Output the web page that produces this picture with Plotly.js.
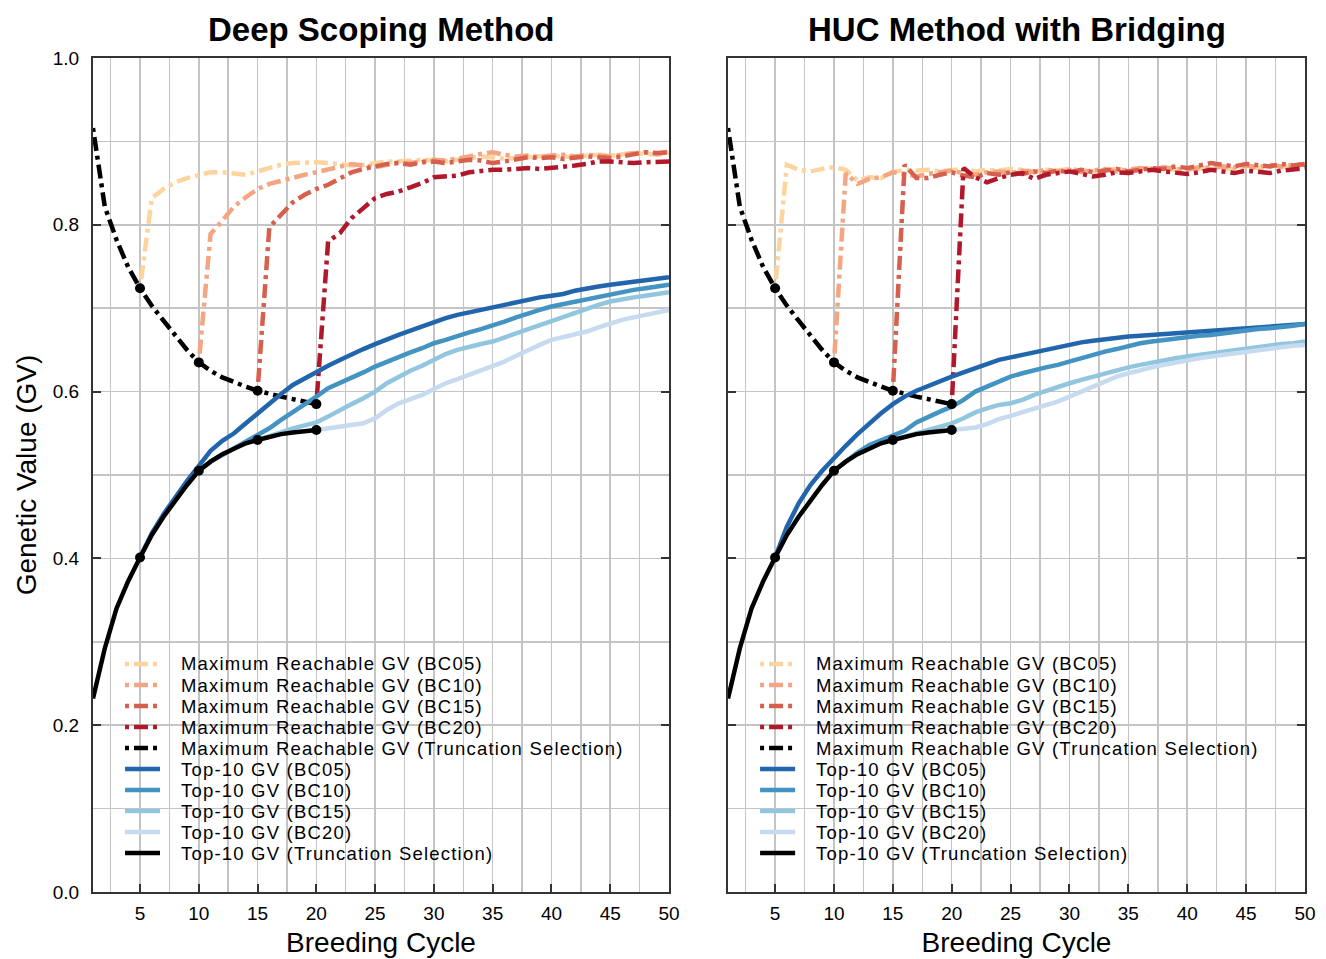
<!DOCTYPE html>
<html>
<head>
<meta charset="utf-8">
<script src="https://cdn.plot.ly/plotly-3.0.1.min.js"></script>
<style>
html,body{margin:0;padding:0;background:#fff;}
#chart{width:1326px;height:959px;}
#chart .annotation text{letter-spacing:1.2px;}
#chart .annotation[data-index="0"] text, #chart .annotation[data-index="11"] text{letter-spacing:0;}
</style>
</head>
<body>
<div id="chart"></div>
<script>
// ---------- data ----------
const panelTitles = ["Deep Scoping Method", "HUC Method with Bridging"];
const xTitle = "Breeding Cycle";
const yTitle = "Genetic Value (GV)";
const bcCycles = [5, 10, 15, 20];
const bcNames = ["BC05", "BC10", "BC15", "BC20"];
const maxColors = ["#FDD49E", "#F4A582", "#D6604D", "#B2182B"];
const topColors = ["#2166AC", "#4393C3", "#92C5DE", "#C6DBEF"];
const legendMax = ["Maximum Reachable GV (BC05)", "Maximum Reachable GV (BC10)", "Maximum Reachable GV (BC15)", "Maximum Reachable GV (BC20)", "Maximum Reachable GV (Truncation Selection)"];
const legendTop = ["Top-10 GV (BC05)", "Top-10 GV (BC10)", "Top-10 GV (BC15)", "Top-10 GV (BC20)", "Top-10 GV (Truncation Selection)"];

// truncation selection, cycles 1..20 (same in both panels)
const truncMax = [0.916, 0.822, 0.782, 0.749, 0.724, 0.703, 0.685, 0.667, 0.650, 0.635,
                  0.625, 0.617, 0.611, 0.606, 0.601, 0.597, 0.594, 0.591, 0.588, 0.585];
const truncTop = [0.232, 0.292, 0.340, 0.373, 0.401, 0.428, 0.450, 0.470, 0.488, 0.505,
                  0.516, 0.525, 0.532, 0.538, 0.542, 0.546, 0.549, 0.551, 0.553, 0.554];

// Deep Scoping: maximum reachable GV, from the bridging cycle to 50
const deepMax05 = [0.724, 0.832, 0.843, 0.851, 0.856, 0.860, 0.863, 0.863, 0.861, 0.860, 0.864, 0.868, 0.872, 0.874, 0.875, 0.875,
  0.874, 0.872, 0.871, 0.872, 0.874, 0.876, 0.876, 0.877, 0.878, 0.877, 0.876, 0.878, 0.880, 0.882, 0.881,
  0.879, 0.880, 0.881, 0.882, 0.883, 0.882, 0.881, 0.883, 0.884, 0.883, 0.884, 0.886, 0.885, 0.884, 0.886];
const deepMax10 = [0.635, 0.789, 0.805, 0.822, 0.833, 0.843, 0.849, 0.853, 0.857, 0.860, 0.863,
  0.866, 0.870, 0.873, 0.871, 0.869, 0.872, 0.875, 0.874, 0.876, 0.878, 0.877, 0.879, 0.882, 0.885, 0.887,
  0.884, 0.882, 0.883, 0.881, 0.883, 0.884, 0.882, 0.884, 0.883, 0.882, 0.884, 0.886, 0.887, 0.885, 0.888];
const deepMax15 = [0.601, 0.797, 0.812, 0.827, 0.836, 0.843, 0.848, 0.856, 0.863, 0.867, 0.870,
  0.873, 0.874, 0.872, 0.875, 0.876, 0.874, 0.876, 0.878, 0.877, 0.874, 0.876, 0.879, 0.881, 0.880, 0.881,
  0.879, 0.880, 0.882, 0.881, 0.880, 0.882, 0.885, 0.887, 0.886, 0.887];
const deepMax20 = [0.585, 0.780, 0.790, 0.808, 0.820, 0.832, 0.837, 0.840, 0.845, 0.850, 0.857,
  0.858, 0.859, 0.863, 0.865, 0.866, 0.866, 0.867, 0.868, 0.867, 0.868, 0.870, 0.871, 0.873, 0.876, 0.876,
  0.875, 0.874, 0.875, 0.876, 0.876];
// Deep Scoping: top-10 GV
const deepTop05 = [0.401, 0.430, 0.453, 0.474, 0.493, 0.511, 0.529, 0.541, 0.550, 0.562, 0.574, 0.585, 0.597, 0.608, 0.616, 0.624,
  0.631, 0.638, 0.645, 0.651, 0.657, 0.663, 0.668, 0.673, 0.678, 0.684, 0.688, 0.692, 0.695, 0.699, 0.702,
  0.705, 0.708, 0.710, 0.713, 0.715, 0.717, 0.721, 0.724, 0.726, 0.728, 0.730, 0.731, 0.733, 0.735, 0.737];
const deepTop10 = [0.505, 0.516, 0.524, 0.532, 0.540, 0.548, 0.556, 0.566, 0.575, 0.585, 0.594,
  0.604, 0.610, 0.616, 0.623, 0.630, 0.636, 0.642, 0.647, 0.652, 0.658, 0.662, 0.667, 0.671, 0.675, 0.679,
  0.684, 0.689, 0.694, 0.698, 0.702, 0.705, 0.708, 0.711, 0.714, 0.717, 0.720, 0.722, 0.724, 0.726, 0.728];
const deepTop15 = [0.542, 0.546, 0.551, 0.556, 0.559, 0.563, 0.570, 0.578, 0.585, 0.592, 0.600,
  0.610, 0.618, 0.625, 0.631, 0.638, 0.645, 0.650, 0.654, 0.657, 0.660, 0.665, 0.670, 0.675, 0.680, 0.684,
  0.689, 0.694, 0.699, 0.704, 0.708, 0.711, 0.713, 0.715, 0.717, 0.719];
const deepTop20 = [0.554, 0.556, 0.557, 0.559, 0.562, 0.568, 0.578, 0.586, 0.591, 0.596, 0.603,
  0.610, 0.615, 0.620, 0.625, 0.630, 0.636, 0.643, 0.650, 0.656, 0.662, 0.665, 0.668, 0.672, 0.677, 0.682,
  0.686, 0.689, 0.692, 0.695, 0.698];

// HUC with bridging: maximum reachable GV
const hucMax05 = [0.724, 0.872, 0.866, 0.864, 0.867, 0.869, 0.866, 0.853, 0.857, 0.856, 0.863, 0.866, 0.865, 0.866, 0.864, 0.866,
  0.867, 0.864, 0.866, 0.865, 0.867, 0.866, 0.864, 0.866, 0.865, 0.867, 0.866, 0.864, 0.866, 0.867, 0.865,
  0.866, 0.868, 0.867, 0.866, 0.868, 0.867, 0.869, 0.868, 0.867, 0.869, 0.868, 0.870, 0.869, 0.870, 0.871];
const hucMax10 = [0.635, 0.862, 0.849, 0.855, 0.857, 0.863, 0.861, 0.858, 0.861, 0.863, 0.865,
  0.862, 0.860, 0.863, 0.864, 0.862, 0.865, 0.863, 0.866, 0.864, 0.866, 0.863, 0.865, 0.867, 0.864, 0.866,
  0.868, 0.866, 0.869, 0.867, 0.866, 0.869, 0.868, 0.870, 0.869, 0.871, 0.869, 0.872, 0.870, 0.872, 0.872];
const hucMax15 = [0.601, 0.872, 0.856, 0.856, 0.860, 0.863, 0.859, 0.857, 0.862, 0.860, 0.863,
  0.861, 0.864, 0.862, 0.865, 0.863, 0.866, 0.863, 0.865, 0.867, 0.864, 0.866, 0.868, 0.867, 0.870, 0.868,
  0.871, 0.874, 0.872, 0.870, 0.873, 0.872, 0.870, 0.873, 0.871, 0.873];
const hucMax20 = [0.585, 0.868, 0.857, 0.851, 0.856, 0.860, 0.862, 0.855, 0.860, 0.862, 0.864,
  0.861, 0.858, 0.860, 0.863, 0.862, 0.864, 0.866, 0.864, 0.862, 0.861, 0.863, 0.866, 0.864, 0.862, 0.865,
  0.863, 0.862, 0.865, 0.867, 0.868];
// HUC with bridging: top-10 GV
const hucTop05 = [0.401, 0.438, 0.466, 0.488, 0.505, 0.521, 0.535, 0.549, 0.562, 0.574, 0.585, 0.594, 0.601, 0.607, 0.613, 0.618,
  0.623, 0.628, 0.633, 0.638, 0.641, 0.644, 0.648, 0.651, 0.654, 0.657, 0.659, 0.661, 0.663, 0.665, 0.666,
  0.667, 0.668, 0.669, 0.670, 0.671, 0.672, 0.673, 0.674, 0.675, 0.676, 0.677, 0.678, 0.679, 0.680, 0.681];
const hucTop10 = [0.505, 0.516, 0.527, 0.536, 0.542, 0.547, 0.553, 0.563, 0.570, 0.576, 0.582,
  0.590, 0.600, 0.606, 0.613, 0.618, 0.622, 0.626, 0.629, 0.632, 0.636, 0.641, 0.645, 0.648, 0.651, 0.655,
  0.658, 0.660, 0.662, 0.664, 0.665, 0.667, 0.668, 0.670, 0.672, 0.674, 0.675, 0.676, 0.677, 0.679, 0.681];
const hucTop15 = [0.542, 0.546, 0.551, 0.555, 0.559, 0.562, 0.568, 0.575, 0.580, 0.584, 0.586,
  0.590, 0.596, 0.601, 0.606, 0.610, 0.614, 0.618, 0.622, 0.626, 0.629, 0.632, 0.635, 0.638, 0.640, 0.642,
  0.644, 0.646, 0.648, 0.650, 0.652, 0.653, 0.655, 0.657, 0.658, 0.660];
const hucTop20 = [0.554, 0.555, 0.557, 0.561, 0.567, 0.571, 0.575, 0.580, 0.584, 0.588, 0.594,
  0.600, 0.606, 0.612, 0.618, 0.622, 0.626, 0.629, 0.632, 0.635, 0.638, 0.640, 0.642, 0.644, 0.646, 0.648,
  0.650, 0.651, 0.653, 0.655, 0.656];

// ---------- build ----------
const FONT = "Liberation Sans, Arial, Helvetica, sans-serif";
const DASHDOT = "4px,5px,14px,5px";
const LW = 4.5;
function cyclesFrom(start, n) { const a = []; for (let i = 0; i < n; i++) a.push(start + i); return a; }

const panels = [
  { max: [deepMax05, deepMax10, deepMax15, deepMax20], top: [deepTop05, deepTop10, deepTop15, deepTop20], xa: "x", ya: "y" },
  { max: [hucMax05, hucMax10, hucMax15, hucMax20], top: [hucTop05, hucTop10, hucTop15, hucTop20], xa: "x2", ya: "y2" }
];

const traces = [];
panels.forEach(p => {
  p.max.forEach((vals, i) => {
    traces.push({ type: "scatter", mode: "lines", name: legendMax[i], xaxis: p.xa, yaxis: p.ya,
      x: cyclesFrom(bcCycles[i], vals.length), y: vals,
      line: { color: maxColors[i], width: LW, dash: DASHDOT }, hoverinfo: "skip" });
  });
  traces.push({ type: "scatter", mode: "lines", name: legendMax[4], xaxis: p.xa, yaxis: p.ya,
    x: cyclesFrom(1, truncMax.length), y: truncMax,
    line: { color: "#000000", width: LW, dash: DASHDOT }, hoverinfo: "skip" });
  p.top.forEach((vals, i) => {
    traces.push({ type: "scatter", mode: "lines", name: legendTop[i], xaxis: p.xa, yaxis: p.ya,
      x: cyclesFrom(bcCycles[i], vals.length), y: vals,
      line: { color: topColors[i], width: LW }, hoverinfo: "skip" });
  });
  traces.push({ type: "scatter", mode: "lines", name: legendTop[4], xaxis: p.xa, yaxis: p.ya,
    x: cyclesFrom(1, truncTop.length), y: truncTop,
    line: { color: "#000000", width: LW }, hoverinfo: "skip" });
  // bridging points
  [truncMax, truncTop].forEach(series => {
    traces.push({ type: "scatter", mode: "markers", xaxis: p.xa, yaxis: p.ya,
      x: bcCycles, y: bcCycles.map(c => series[c - 1]),
      marker: { color: "#000000", size: 10 }, hoverinfo: "skip", showlegend: false });
  });
});

const L = 93, R = 21, T = 58, B = 67, W = 1326, H = 959;
const plotW = W - L - R;
const leftDom = [0, 576 / plotW];
const rightDom = [(728 - L) / plotW, 1];

function xaxisDef(dom, anchor) {
  return {
    domain: dom, anchor: anchor, range: [1, 50], tick0: 0, dtick: 5,
    ticks: "inside", ticklen: 8, tickwidth: 2, tickcolor: "#333",
    showline: true, linecolor: "#333", linewidth: 2, mirror: true,
    showgrid: true, gridcolor: "#c4c4c4", gridwidth: 1.5, zeroline: false,
    minor: { dtick: 2.5, tick0: 0, showgrid: true, gridcolor: "#c4c4c4", gridwidth: 1.5, ticks: "" },
    tickfont: { family: FONT, size: 19, color: "#000" }, ticklabelstandoff: 3,
    title: { text: xTitle, font: { family: FONT, size: 28, color: "#000" }, standoff: 10 },
    fixedrange: true
  };
}
function yaxisDef(anchor, showLabels) {
  return {
    domain: [0, 1], anchor: anchor, range: [0, 1], tick0: 0, dtick: 0.2, tickformat: ".1f",
    ticks: "inside", ticklen: 8, tickwidth: 2, tickcolor: "#333",
    showline: true, linecolor: "#333", linewidth: 2, mirror: "ticks",
    showgrid: true, gridcolor: "#c4c4c4", gridwidth: 1.5, zeroline: false,
    minor: { dtick: 0.1, tick0: 0, showgrid: true, gridcolor: "#c4c4c4", gridwidth: 1.5, ticks: "" },
    showticklabels: showLabels, tickfont: { family: FONT, size: 19, color: "#000" }, ticklabelstandoff: 8,
    title: showLabels ? { text: yTitle, font: { family: FONT, size: 28, color: "#000" }, standoff: 8 } : { text: "" },
    fixedrange: true
  };
}

const annotations = [];
const shapes = [];
[leftDom, rightDom].forEach((dom, k) => {
  annotations.push({ xref: "paper", yref: "paper", x: (dom[0] + dom[1]) / 2, y: 1 + 28 / (H - T - B),
    xanchor: "center", yanchor: "middle", showarrow: false, text: "<b>" + panelTitles[k] + "</b>",
    font: { family: FONT, size: 33, color: "#000" } });
  const xr = k === 0 ? "x domain" : "x2 domain";
  const yr = k === 0 ? "y domain" : "y2 domain";
  const entries = [];
  legendMax.forEach((t, i) => entries.push({ text: t, color: i < 4 ? maxColors[i] : "#000000", dash: DASHDOT }));
  legendTop.forEach((t, i) => entries.push({ text: t, color: i < 4 ? topColors[i] : "#000000", dash: "solid" }));
  entries.forEach((e, i) => {
    const yy = (892 - (664 + 21 * i)) / (H - T - B);
    shapes.push({ type: "line", xref: xr, yref: yr, x0: 0.0556, x1: 0.1163, y0: yy, y1: yy,
      line: { color: e.color, width: LW, dash: e.dash } });
    annotations.push({ xref: xr, yref: yr, x: 0.151, y: yy, xanchor: "left", yanchor: "middle", align: "left",
      showarrow: false, text: e.text, borderpad: 0,
      font: { family: FONT, size: 18.5, color: "#000" } });
  });
});

const layout = {
  width: W, height: H, margin: { l: L, r: R, t: T, b: B },
  paper_bgcolor: "#ffffff", plot_bgcolor: "#ffffff", showlegend: false,
  font: { family: FONT, color: "#000" },
  xaxis: xaxisDef(leftDom, "y"), yaxis: yaxisDef("x", true),
  xaxis2: xaxisDef(rightDom, "y2"), yaxis2: yaxisDef("x2", false),
  annotations: annotations, shapes: shapes
};

Plotly.newPlot("chart", traces, layout, { staticPlot: true, displayModeBar: false });
</script>
</body>
</html>
